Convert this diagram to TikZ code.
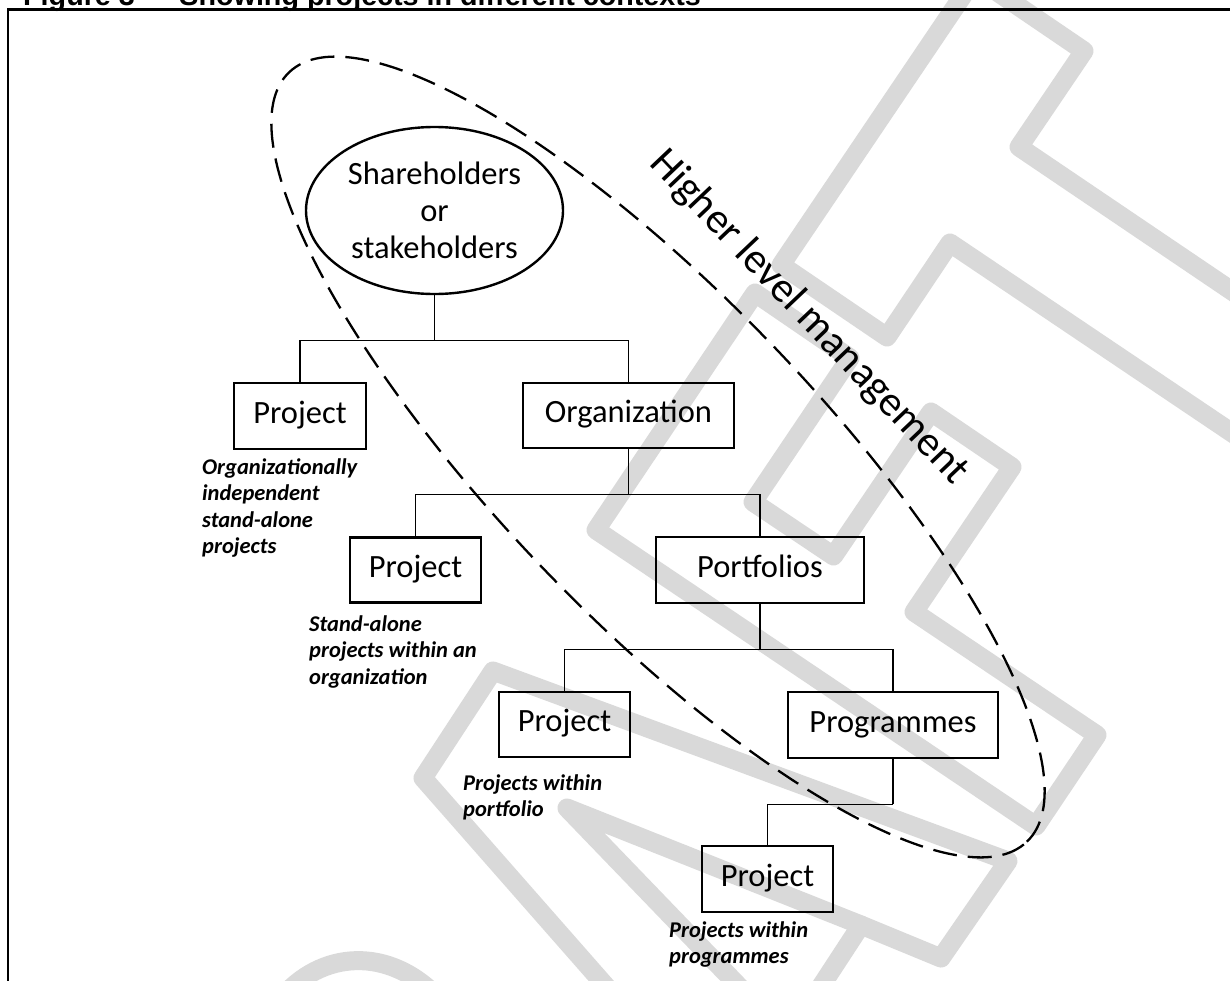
\documentclass[tikz,border=0pt]{standalone}
\usepackage{fontspec}
\setmainfont{Carlito}
\newfontfamily\titlefont{Liberation Sans}
\usetikzlibrary{shapes.geometric,calc}
\definecolor{wmgray}{RGB}{217,217,217}
\begin{document}
\begin{tikzpicture}[x=1pt,y=-1pt,
  box/.style={draw,line width=2.6pt,inner sep=0pt,font=\fontsize{32.5}{37}\selectfont,text height=21pt,text depth=7pt},
  conn/.style={line width=1.2pt},
  lbl/.style={font=\fontsize{22.5}{26.5}\selectfont\bfseries\itshape,align=left,inner sep=0pt,anchor=north west},
  wm/.style={line width=19pt,draw=wmgray,line join=round,line cap=round},
  hlm/.style={draw,ellipse,line width=2.3pt,dash pattern=on 24pt off 11pt,inner sep=0pt}]
\useasboundingbox (0,0) rectangle (1230,980);
\fill[white] (0,0) rectangle (1230,980);
\clip (0,0) rectangle (1230,980);
% watermark
\draw[wm] (995,-52) -- (781,265) -- (887,337) -- (950,243) -- (1262,453);
\draw[wm] (962,-32) -- (1084,51) -- (1019,147) -- (1328,356);
\draw[wm] (755,293) -- (850,358) -- (753,502) -- (833.5,556) -- (931,412) -- (1012,467) -- (914,612) -- (1097,735) -- (1036,826) -- (596,530) -- cycle;
\draw[wm] (618,1000) -- (423,778) -- (493,671) -- (1008,861) -- (941,958) -- (861,925) -- (812,1000);
\draw[wm] (861,925) -- (567,808) -- (752,1000);
\draw[wm] (280,1000) .. controls (320,950) and (390,945) .. (440,1000);
% title and frame
\node[anchor=base west,inner sep=0pt,font=\titlefont\bfseries\fontsize{28.7}{30}\selectfont] (title) at (23,5) {Figure 3 — Showing projects in different contexts};
\draw[line width=2.5pt] (1300,9.5) -- (8,9.5) -- (8,1050);
% higher level management
\node[hlm,rotate=-46.2,minimum width=1066pt,minimum height=320pt] (hlm) at (658,457) {};
\node[rotate=-46.5,anchor=base west,inner sep=0pt,font=\fontsize{42.5}{48}\selectfont] (hlmtext) at (648,164) {Higher level management};
% nodes
\node[ellipse,draw,line width=2.4pt,minimum width=257pt,minimum height=167pt,inner sep=0pt,align=center,font=\fontsize{32.5}{37}\selectfont] (sh) at (434.5,210.5) {Shareholders\\or\\stakeholders};
\node[box,minimum width=132pt,minimum height=66pt] (p1) at (300,416) {Project};
\node[box,minimum width=211pt,minimum height=65pt] (org) at (628.5,415.5) {Organization};
\node[box,minimum width=131pt,minimum height=65pt] (p2) at (415.5,570) {Project};
\node[box,minimum width=208pt,minimum height=66pt] (port) at (760,570) {Portfolios};
\node[box,minimum width=131pt,minimum height=65pt] (p3) at (564.5,724.5) {Project};
\node[box,minimum width=210pt,minimum height=66pt] (prog) at (893,725) {Programmes};
\node[box,minimum width=131pt,minimum height=66pt] (p4) at (767.5,879) {Project};
% labels
\node[lbl] (l1) at (202,456) {\rule{0pt}{18pt}Organizationally\\independent\\stand-alone\\projects};
\node[lbl] (l2) at (309,613) {\rule{0pt}{18pt}Stand-alone\\projects within an\\organization};
\node[lbl] (l3) at (463,772) {\rule{0pt}{18pt}Projects within\\portfolio};
\node[lbl] (l4) at (669,919) {\rule{0pt}{18pt}Projects within\\programmes};
% connectors
\draw[conn] (sh.south) -- ++(0,45) coordinate (j1);
\draw[conn] (p1.north) |- (j1) -| (org.north);
\draw[conn] (org.south) -- ++(0,45) coordinate (j2);
\draw[conn] (p2.north) |- (j2) -| (port.north);
\draw[conn] (port.south) -- ++(0,45) coordinate (j3);
\draw[conn] (p3.north) |- (j3) -| (prog.north);
\draw[conn] (prog.south) -- ++(0,45) coordinate (j4);
\draw[conn] (j4) -| (p4.north);
\end{tikzpicture}
\end{document}
